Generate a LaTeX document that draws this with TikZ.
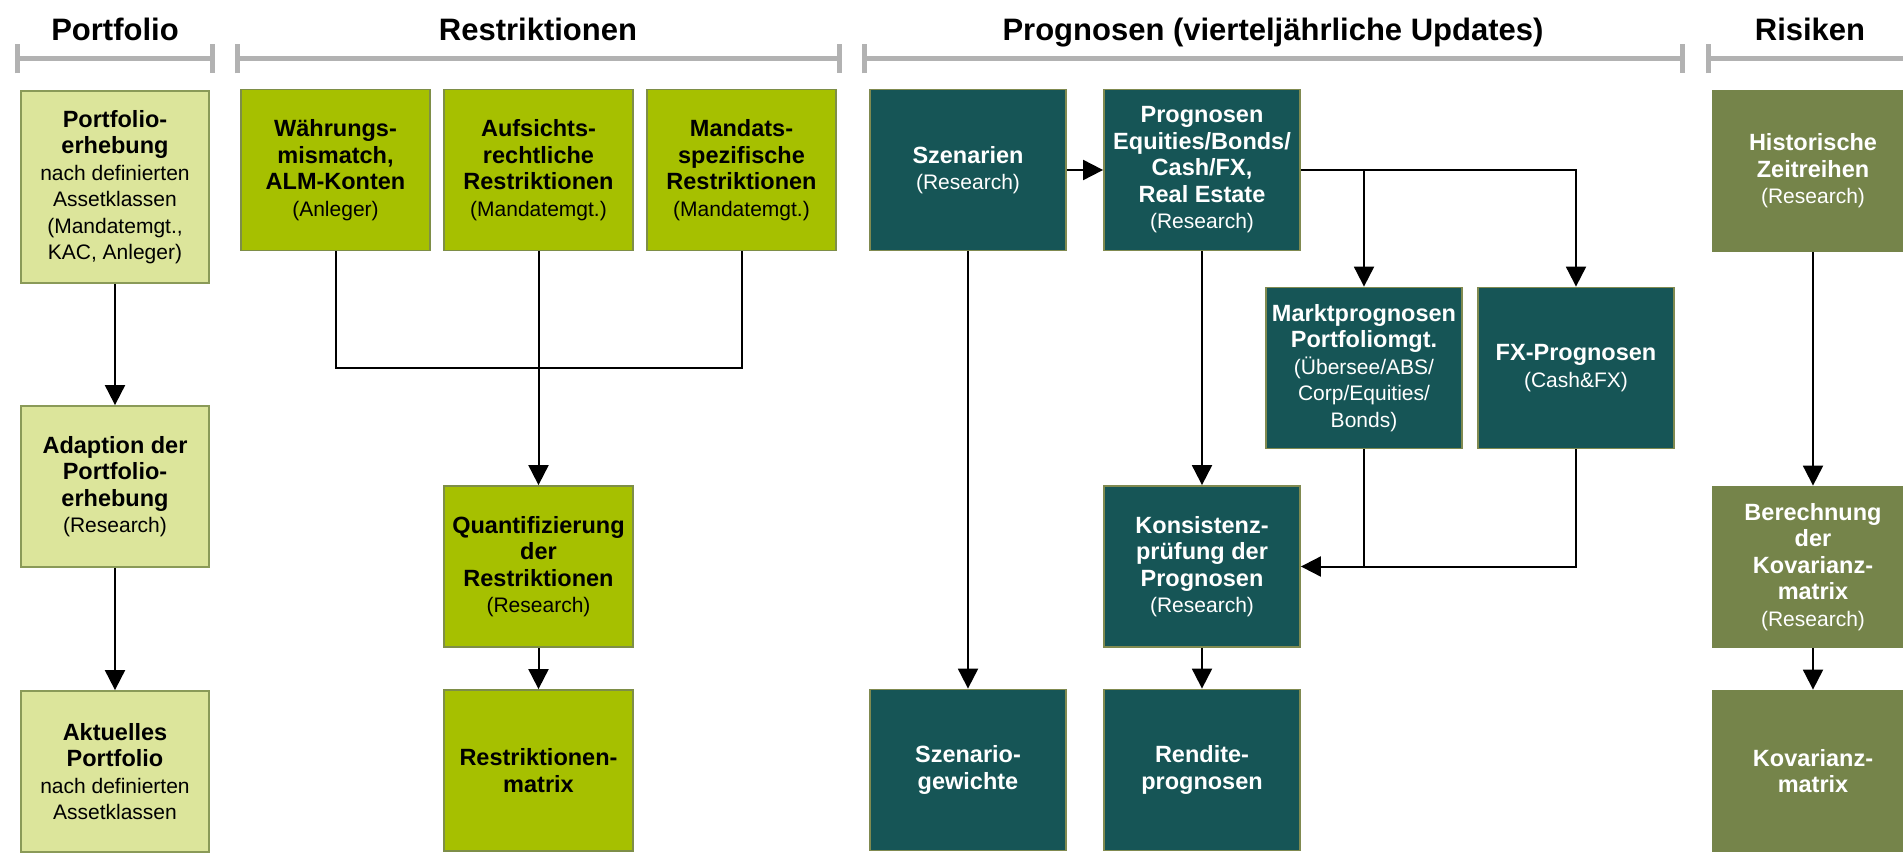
\documentclass[tikz,border=0pt]{standalone}
\usepackage{fontspec}
\setmainfont{Liberation Sans}
\usetikzlibrary{arrows.meta}

\definecolor{pfill}{HTML}{DCE59B}
\definecolor{pline}{HTML}{8A9A58}
\definecolor{rfill}{HTML}{A6C000}
\definecolor{rline}{HTML}{7E8E48}
\definecolor{gfill}{HTML}{165556}
\definecolor{gline}{HTML}{808A50}
\definecolor{kfill}{HTML}{75844A}
\definecolor{bgray}{HTML}{B2B2B2}

\newcommand{\hd}[1]{{\fontsize{23.5}{26.5}\selectfont\bfseries #1}}

\begin{document}
\begin{tikzpicture}[x=1pt, y=-1pt,
		box/.style={rectangle, draw, line width=1.8pt, inner sep=0pt, align=center,
			minimum width=189pt, minimum height=161pt, font=\fontsize{21}{26.5}\selectfont},
		pbox/.style={box, fill=pfill, draw=pline, minimum width=188pt},
		rbox/.style={box, fill=rfill, draw=rline},
		gbox/.style={box, fill=gfill, draw=gline, text=white, minimum width=196pt},
		kbox/.style={box, fill=kfill, draw=kfill, text=white, minimum width=200pt},
		arr/.style={line width=2pt, -{Triangle[length=20pt, width=20pt]}},
		link/.style={line width=2pt},
		bracket/.style={line width=5pt, draw=bgray, {Bar[width=29pt]}-{Bar[width=29pt]}},
		title/.style={font=\fontsize{31}{36}\selectfont\bfseries, anchor=base}]

		\useasboundingbox (0,0) rectangle (1903,864);
		\clip (0,0) rectangle (1903,864);

		% titles and brackets
		\node[title] (tP) at (115,41) {Portfolio};
		\node[title] (tR) at (538,41) {Restriktionen};
		\node[title] (tG) at (1273,41) {Prognosen (vierteljährliche Updates)};
		\node[title] (tK) at (1810,41) {Risiken};

		\draw[bracket] (15,59) -- (215,59);
		\draw[bracket] (235,59) -- (842,59);
		\draw[bracket] (862,59) -- (1685,59);
		\draw[bracket, {Bar[width=29pt]}-] (1706,59) -- (1920,59);

		% Portfolio
		\node[pbox, minimum height=192pt] (P1) at (115,187) {\hd{Portfolio-}\\\hd{erhebung}\\nach definierten\\Assetklassen\\(Mandatemgt.,\\KAC, Anleger)};
		\node[pbox] (P2) at (115,486.5) {\hd{Adaption der}\\\hd{Portfolio-}\\\hd{erhebung}\\(Research)};
		\node[pbox] (P3) at (115,771.5) {\hd{Aktuelles}\\\hd{Portfolio}\\nach definierten\\Assetklassen};

		% Restriktionen
		\node[rbox] (R1) at (335.5,170) {\hd{Währungs-}\\\hd{mismatch,}\\\hd{ALM-Konten}\\(Anleger)};
		\node[rbox] (R2) at (538.5,170) {\hd{Aufsichts-}\\\hd{rechtliche}\\\hd{Restriktionen}\\(Mandatemgt.)};
		\node[rbox] (R3) at (741.5,170) {\hd{Mandats-}\\\hd{spezifische}\\\hd{Restriktionen}\\(Mandatemgt.)};
		\node[rbox] (R4) at (538.5,566.5) {\hd{Quantifizierung}\\\hd{der}\\\hd{Restriktionen}\\(Research)};
		\node[rbox] (R5) at (538.5,770.5) {\hd{Restriktionen-}\\\hd{matrix}};

		% Prognosen
		\node[gbox] (G1) at (968,170) {\hd{Szenarien}\\(Research)};
		\node[gbox] (G2) at (1202,170) {\hd{Prognosen}\\\hd{Equities/Bonds/}\\\hd{Cash/FX,}\\\hd{Real Estate}\\(Research)};
		\node[gbox] (G3) at (1364,368) {\hd{Marktprognosen}\\\hd{Portfoliomgt.}\\(Übersee/ABS/\\Corp/Equities/\\Bonds)};
		\node[gbox] (G4) at (1576,368) {\hd{FX-Prognosen}\\(Cash\&FX)};
		\node[gbox] (G5) at (1202,566.5) {\hd{Konsistenz-}\\\hd{prüfung der}\\\hd{Prognosen}\\(Research)};
		\node[gbox] (G6) at (968,770) {\hd{Szenario-}\\\hd{gewichte}};
		\node[gbox] (G7) at (1202,770) {\hd{Rendite-}\\\hd{prognosen}};

		% Risiken
		\node[kbox] (K1) at (1813,171) {\hd{Historische}\\\hd{Zeitreihen}\\(Research)};
		\node[kbox] (K2) at (1813,567) {\hd{Berechnung}\\\hd{der}\\\hd{Kovarianz-}\\\hd{matrix}\\(Research)};
		\node[kbox] (K3) at (1813,771) {\hd{Kovarianz-}\\\hd{matrix}};

		\coordinate (RJ) at (538.5,368);

		\draw[arr] (P1) -- (P2);
		\draw[arr] (P2) -- (P3);

		\draw[link] (R1.south) |- (RJ) -| (R3.south);
		\draw[arr] (R2) -- (R4);
		\draw[arr] (R4) -- (R5);

		\draw[arr] (G1) -- (G2);
		\draw[arr] (G1) -- (G6);
		\draw[arr] (G2) -- (G5);
		\draw[arr] (G5) -- (G7);
		\draw[arr] (G2.east) -| (G4.north);
		\draw[arr] (G2.east -| G3.north) -- (G3.north);
		\draw[arr] (G4.south) |- (G5.east);
		\draw[link] (G3.south) -- (G3.south |- G5.east);

		\draw[arr] (K1) -- (K2);
		\draw[arr] (K2) -- (K3);

	\end{tikzpicture}
\end{document}
